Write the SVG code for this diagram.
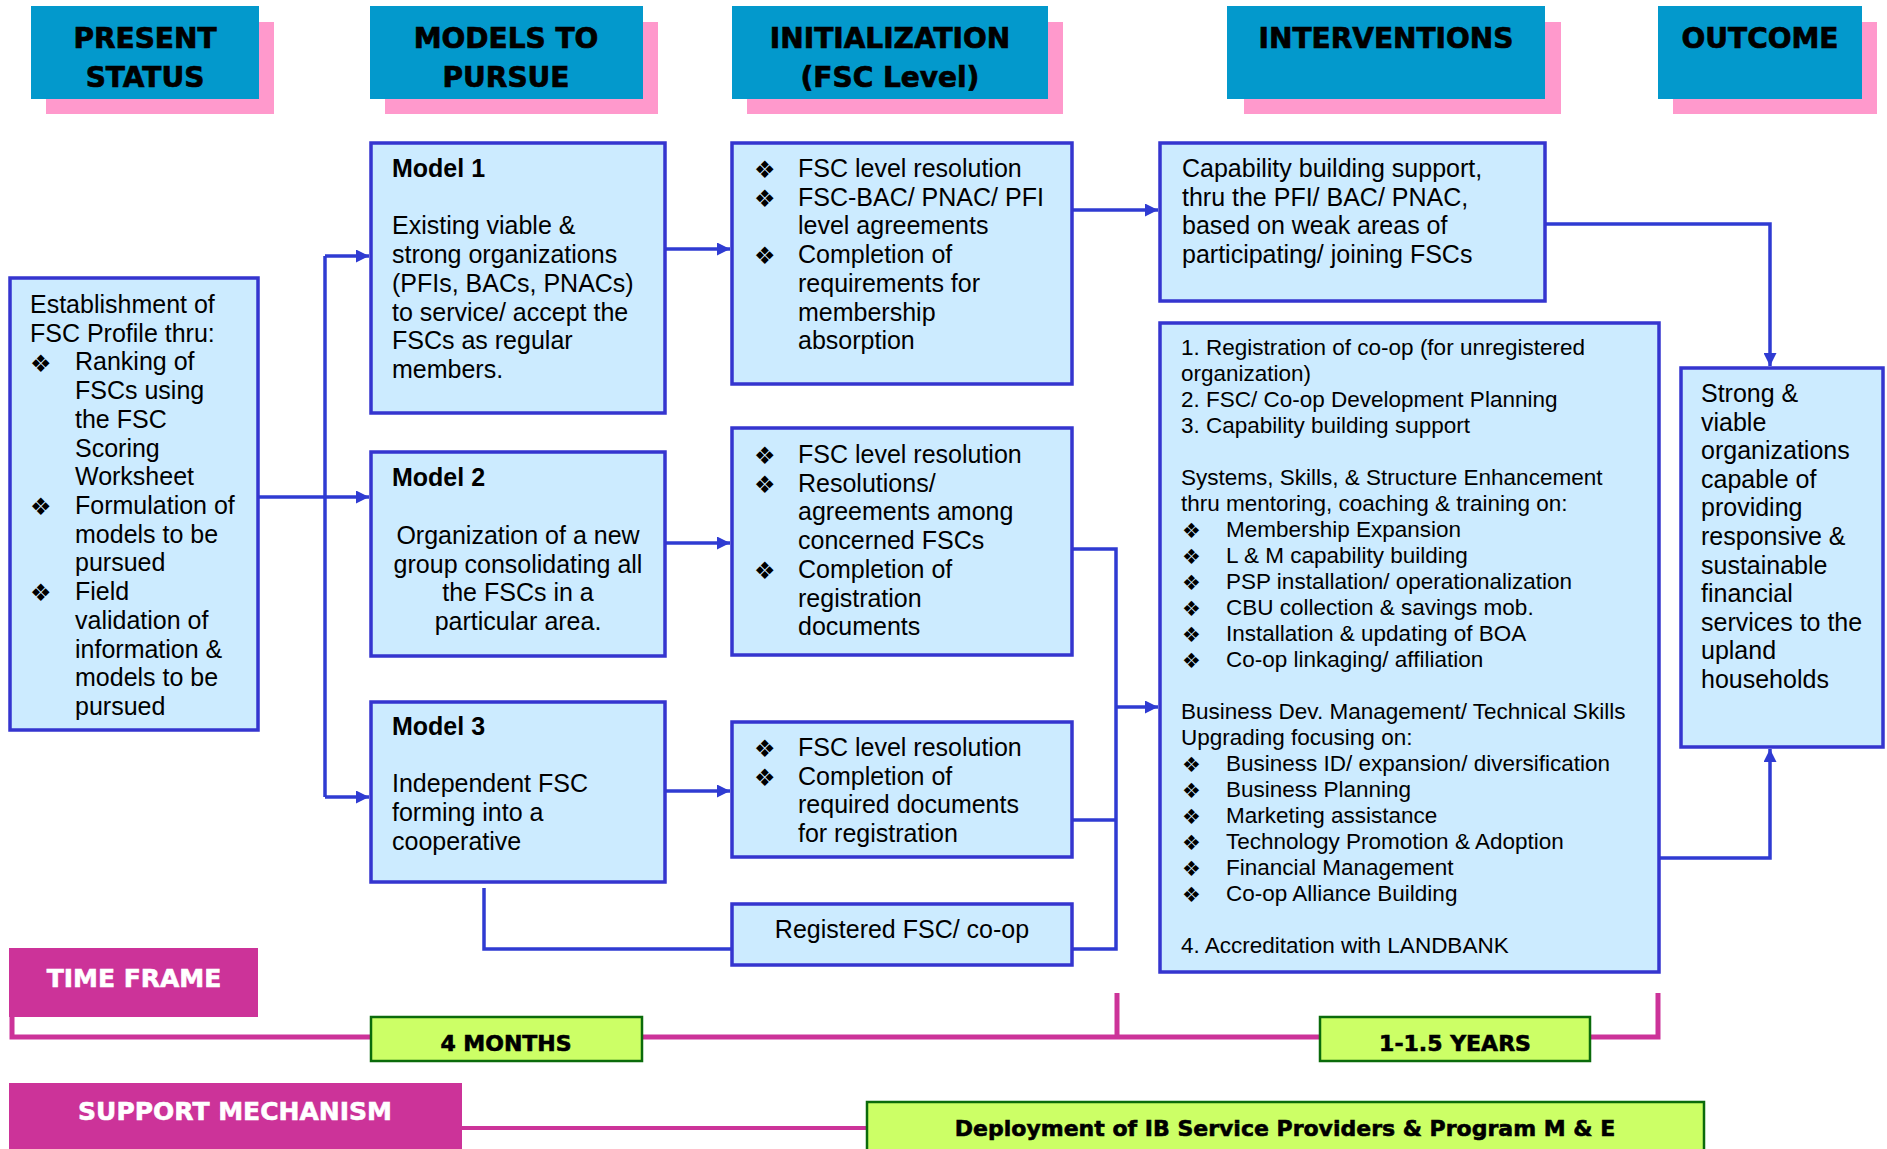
<svg xmlns="http://www.w3.org/2000/svg" width="1887" height="1149" viewBox="0 0 1887 1149">
<defs>
<style>
.hdr{fill:#0399CC}
.shd{fill:#FF99CC}
.ht{font-family:"DejaVu Sans",sans-serif;font-weight:bold;font-size:28px;fill:#000;stroke:#000;stroke-width:0.7;text-anchor:middle}
.box{fill:#CCEBFF;stroke:#3535CF;stroke-width:3.5}
.t{font-family:"Liberation Sans",Arial,sans-serif;font-size:25px;fill:#000}
.ts{font-family:"Liberation Sans",Arial,sans-serif;font-size:22.5px;fill:#000}
.b{font-family:"DejaVu Sans",sans-serif;font-size:24px;fill:#000}
.bs{font-family:"DejaVu Sans",sans-serif;font-size:21px;fill:#000}
.bold{font-weight:bold}
.mid{text-anchor:middle}
.conn{fill:none;stroke:#2F3BD2;stroke-width:3.5}
.mag{fill:#CC3399}
.magl{fill:none;stroke:#CC3399;stroke-width:5}
.grn{fill:#CCFF66;stroke:#0B6B0B;stroke-width:2.5}
.bt{font-family:"DejaVu Sans",sans-serif;font-weight:bold;font-size:22px;fill:#000;stroke:#000;stroke-width:0.6;text-anchor:middle}
.wt{font-family:"DejaVu Sans",sans-serif;font-weight:bold;font-size:25px;fill:#fff;stroke:#fff;stroke-width:0.6;text-anchor:middle}
</style>
<marker id="ah" viewBox="0 0 10 10" refX="10" refY="5" markerWidth="13" markerHeight="13" markerUnits="userSpaceOnUse" orient="auto">
<path d="M0,0 L10,5 L0,10 z" fill="#2F3BD2"/>
</marker>
</defs>
<rect width="1887" height="1149" fill="#fff"/>

<!-- Headers -->
<g id="hdr-present">
<rect class="shd" x="46" y="22" width="228" height="92"/>
<rect class="hdr" x="31" y="6" width="228" height="93"/>
<text class="ht" x="145" y="48">PRESENT</text>
<text class="ht" x="145" y="87">STATUS</text>
</g>
<g id="hdr-models">
<rect class="shd" x="385" y="22" width="273" height="92"/>
<rect class="hdr" x="370" y="6" width="273" height="93"/>
<text class="ht" x="506" y="48">MODELS TO</text>
<text class="ht" x="506" y="87">PURSUE</text>
</g>
<g id="hdr-init">
<rect class="shd" x="747" y="22" width="316" height="92"/>
<rect class="hdr" x="732" y="6" width="316" height="93"/>
<text class="ht" x="890" y="48">INITIALIZATION</text>
<text class="ht" x="890" y="87">(FSC Level)</text>
</g>
<g id="hdr-interv">
<rect class="shd" x="1244" y="22" width="317" height="92"/>
<rect class="hdr" x="1227" y="6" width="318" height="93"/>
<text class="ht" x="1386" y="48">INTERVENTIONS</text>
</g>
<g id="hdr-outcome">
<rect class="shd" x="1673" y="22" width="204" height="92"/>
<rect class="hdr" x="1658" y="6" width="204" height="93"/>
<text class="ht" x="1760" y="48">OUTCOME</text>
</g>

<!-- Connectors -->
<g id="connectors">
<path class="conn" d="M259,497 H325"/>
<path class="conn" d="M325,256 V797"/>
<path class="conn" d="M325,256 H369" marker-end="url(#ah)"/>
<path class="conn" d="M325,497 H369" marker-end="url(#ah)"/>
<path class="conn" d="M325,797 H369" marker-end="url(#ah)"/>
<path class="conn" d="M665,249 H730" marker-end="url(#ah)"/>
<path class="conn" d="M665,543 H730" marker-end="url(#ah)"/>
<path class="conn" d="M665,791 H730" marker-end="url(#ah)"/>
<path class="conn" d="M1072,210 H1158" marker-end="url(#ah)"/>
<path class="conn" d="M1072,549 H1116 V949 H1072"/>
<path class="conn" d="M1072,820 H1116"/>
<path class="conn" d="M1116,707 H1158" marker-end="url(#ah)"/>
<path class="conn" d="M484,888 V949 H732"/>
<path class="conn" d="M1545,224 H1770 V366" marker-end="url(#ah)"/>
<path class="conn" d="M1659,858 H1770 V749" marker-end="url(#ah)"/>
</g>

<!-- Present status -->
<g id="status">
<rect class="box" x="10" y="278" width="248" height="452"/>
<text class="t" x="30" y="313">Establishment of</text>
<text class="t" x="30" y="341.7">FSC Profile thru:</text>
<text class="b" x="30" y="371.5">❖</text>
<text class="t" x="75" y="370.4">Ranking of</text>
<text class="t" x="75" y="399.1">FSCs using</text>
<text class="t" x="75" y="427.8">the FSC</text>
<text class="t" x="75" y="456.5">Scoring</text>
<text class="t" x="75" y="485.2">Worksheet</text>
<text class="b" x="30" y="515.1">❖</text>
<text class="t" x="75" y="514">Formulation of</text>
<text class="t" x="75" y="542.7">models to be</text>
<text class="t" x="75" y="571.4">pursued</text>
<text class="b" x="30" y="601.2">❖</text>
<text class="t" x="75" y="600.1">Field</text>
<text class="t" x="75" y="628.8">validation of</text>
<text class="t" x="75" y="657.5">information &amp;</text>
<text class="t" x="75" y="686.2">models to be</text>
<text class="t" x="75" y="714.9">pursued</text>
</g>

<!-- Models -->
<g id="model1">
<rect class="box" x="371" y="143" width="294" height="270"/>
<text class="t bold" x="392" y="177">Model 1</text>
<text class="t" x="392" y="234.4">Existing viable &amp;</text>
<text class="t" x="392" y="263.1">strong organizations</text>
<text class="t" x="392" y="291.8">(PFIs, BACs, PNACs)</text>
<text class="t" x="392" y="320.5">to service/ accept the</text>
<text class="t" x="392" y="349.2">FSCs as regular</text>
<text class="t" x="392" y="377.9">members.</text>
</g>
<g id="model2">
<rect class="box" x="371" y="452" width="294" height="204"/>
<text class="t bold" x="392" y="486">Model 2</text>
<text class="t mid" x="518" y="544">Organization of a new</text>
<text class="t mid" x="518" y="572.7">group consolidating all</text>
<text class="t mid" x="518" y="601.4">the FSCs in a</text>
<text class="t mid" x="518" y="630.1">particular area.</text>
</g>
<g id="model3">
<rect class="box" x="371" y="702" width="294" height="180"/>
<text class="t bold" x="392" y="735">Model 3</text>
<text class="t" x="392" y="792.4">Independent FSC</text>
<text class="t" x="392" y="821.1">forming into a</text>
<text class="t" x="392" y="849.8">cooperative</text>
</g>

<!-- Initialization -->
<g id="init1">
<rect class="box" x="732" y="143" width="340" height="241"/>
<text class="b" x="754" y="178">❖</text>
<text class="t" x="798" y="177">FSC level resolution</text>
<text class="b" x="754" y="206.7">❖</text>
<text class="t" x="798" y="205.7">FSC-BAC/ PNAC/ PFI</text>
<text class="t" x="798" y="234.4">level agreements</text>
<text class="b" x="754" y="264.1">❖</text>
<text class="t" x="798" y="263.1">Completion of</text>
<text class="t" x="798" y="291.8">requirements for</text>
<text class="t" x="798" y="320.5">membership</text>
<text class="t" x="798" y="349.2">absorption</text>
</g>
<g id="init2">
<rect class="box" x="732" y="428" width="340" height="227"/>
<text class="b" x="754" y="464">❖</text>
<text class="t" x="798" y="463">FSC level resolution</text>
<text class="b" x="754" y="492.7">❖</text>
<text class="t" x="798" y="491.7">Resolutions/</text>
<text class="t" x="798" y="520.4">agreements among</text>
<text class="t" x="798" y="549.1">concerned FSCs</text>
<text class="b" x="754" y="578.8">❖</text>
<text class="t" x="798" y="577.8">Completion of</text>
<text class="t" x="798" y="606.5">registration</text>
<text class="t" x="798" y="635.2">documents</text>
</g>
<g id="init3">
<rect class="box" x="732" y="722" width="340" height="135"/>
<text class="b" x="754" y="757">❖</text>
<text class="t" x="798" y="756">FSC level resolution</text>
<text class="b" x="754" y="785.7">❖</text>
<text class="t" x="798" y="784.7">Completion of</text>
<text class="t" x="798" y="813.4">required documents</text>
<text class="t" x="798" y="842.1">for registration</text>
</g>
<g id="registered">
<rect class="box" x="732" y="904" width="340" height="61"/>
<text class="t mid" x="902" y="938">Registered FSC/ co-op</text>
</g>

<!-- Interventions -->
<g id="interv1">
<rect class="box" x="1160" y="143" width="385" height="158"/>
<text class="t" x="1182" y="177">Capability building support,</text>
<text class="t" x="1182" y="205.7">thru the PFI/ BAC/ PNAC,</text>
<text class="t" x="1182" y="234.4">based on weak areas of</text>
<text class="t" x="1182" y="263.1">participating/ joining FSCs</text>
</g>
<g id="interv2">
<rect class="box" x="1160" y="323" width="499" height="649"/>
<text class="ts" x="1181" y="355">1. Registration of co-op (for unregistered</text>
<text class="ts" x="1181" y="381">organization)</text>
<text class="ts" x="1181" y="407">2. FSC/ Co-op Development Planning</text>
<text class="ts" x="1181" y="433">3. Capability building support</text>
<text class="ts" x="1181" y="485">Systems, Skills, &amp; Structure Enhancement</text>
<text class="ts" x="1181" y="511">thru mentoring, coaching &amp; training on:</text>
<text class="bs" x="1182" y="538">❖</text>
<text class="ts" x="1226" y="537">Membership Expansion</text>
<text class="bs" x="1182" y="564">❖</text>
<text class="ts" x="1226" y="563">L &amp; M capability building</text>
<text class="bs" x="1182" y="590">❖</text>
<text class="ts" x="1226" y="589">PSP installation/ operationalization</text>
<text class="bs" x="1182" y="616">❖</text>
<text class="ts" x="1226" y="615">CBU collection &amp; savings mob.</text>
<text class="bs" x="1182" y="642">❖</text>
<text class="ts" x="1226" y="641">Installation &amp; updating of BOA</text>
<text class="bs" x="1182" y="668">❖</text>
<text class="ts" x="1226" y="667">Co-op linkaging/ affiliation</text>
<text class="ts" x="1181" y="719">Business Dev. Management/ Technical Skills</text>
<text class="ts" x="1181" y="745">Upgrading focusing on:</text>
<text class="bs" x="1182" y="772">❖</text>
<text class="ts" x="1226" y="771">Business ID/ expansion/ diversification</text>
<text class="bs" x="1182" y="798">❖</text>
<text class="ts" x="1226" y="797">Business Planning</text>
<text class="bs" x="1182" y="824">❖</text>
<text class="ts" x="1226" y="823">Marketing assistance</text>
<text class="bs" x="1182" y="850">❖</text>
<text class="ts" x="1226" y="849">Technology Promotion &amp; Adoption</text>
<text class="bs" x="1182" y="876">❖</text>
<text class="ts" x="1226" y="875">Financial Management</text>
<text class="bs" x="1182" y="902">❖</text>
<text class="ts" x="1226" y="901">Co-op Alliance Building</text>
<text class="ts" x="1181" y="953">4. Accreditation with LANDBANK</text>
</g>

<!-- Outcome -->
<g id="outcome">
<rect class="box" x="1681" y="368" width="202" height="379"/>
<text class="t" x="1701" y="402">Strong &amp;</text>
<text class="t" x="1701" y="430.6">viable</text>
<text class="t" x="1701" y="459.2">organizations</text>
<text class="t" x="1701" y="487.8">capable of</text>
<text class="t" x="1701" y="516.4">providing</text>
<text class="t" x="1701" y="545">responsive &amp;</text>
<text class="t" x="1701" y="573.6">sustainable</text>
<text class="t" x="1701" y="602.2">financial</text>
<text class="t" x="1701" y="630.8">services to the</text>
<text class="t" x="1701" y="659.4">upland</text>
<text class="t" x="1701" y="688">households</text>
</g>

<!-- Time frame -->
<g id="timeline">
<path class="magl" d="M12,993 V1037 H1658 V993"/>
<path class="magl" d="M1117,993 V1037"/>
<path fill="none" stroke="#CC3399" stroke-width="4" d="M462,1128 H867"/>
</g>
<g id="timeframe">
<rect class="mag" x="9" y="948" width="249" height="69"/>
<text class="wt" x="134" y="987">TIME FRAME</text>
</g>
<g id="months4">
<rect class="grn" x="371" y="1017" width="271" height="44"/>
<text class="bt" x="506" y="1051">4 MONTHS</text>
</g>
<g id="years">
<rect class="grn" x="1320" y="1017" width="270" height="44"/>
<text class="bt" x="1455" y="1051">1-1.5 YEARS</text>
</g>
<g id="support">
<rect class="mag" x="9" y="1083" width="453" height="70"/>
<text class="wt" x="235" y="1120">SUPPORT MECHANISM</text>
</g>
<g id="deployment">
<rect class="grn" x="867" y="1102" width="837" height="60"/>
<text class="bt" x="1285" y="1136">Deployment of IB Service Providers &amp; Program M &amp; E</text>
</g>
</svg>
